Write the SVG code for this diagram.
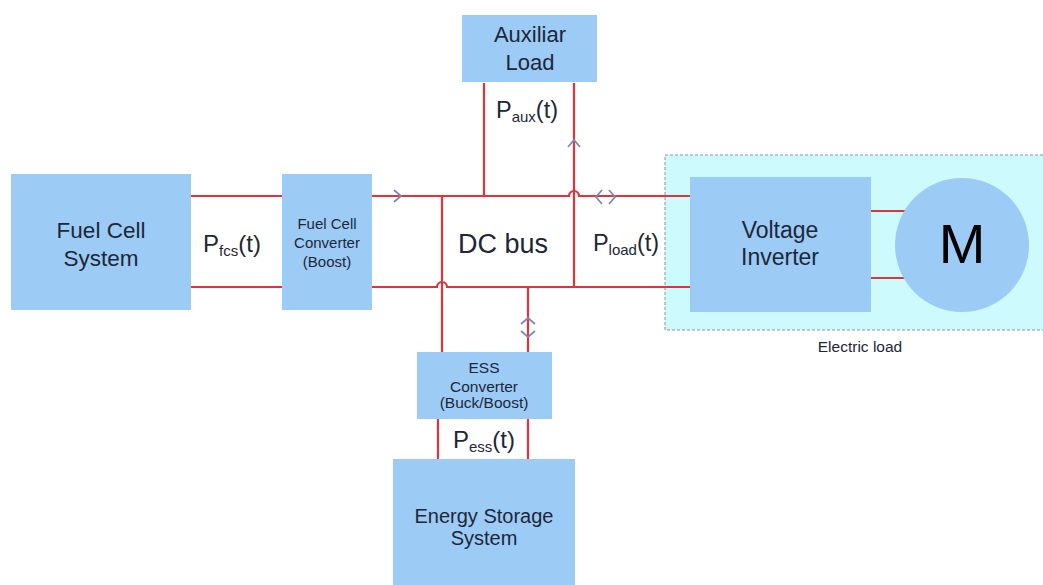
<svg xmlns="http://www.w3.org/2000/svg" width="1043" height="585" viewBox="0 0 1043 585">
<style>
.box{fill:#9ccbf6}
.t{font-family:"Liberation Sans",Arial,sans-serif;fill:#1c2738;text-anchor:middle}
.w{stroke:#e0343a;stroke-width:2.2;fill:none}
.ch{stroke:#7b8bb0;stroke-width:1.8;fill:none}
</style>
<rect width="1043" height="585" fill="#ffffff"/>
<g id="electric-load">
<rect x="665" y="155" width="380" height="175" fill="#cdfbfd" stroke="#8a9499" stroke-width="1" stroke-dasharray="3,2"/>
<text class="t" x="860" y="352" font-size="15.5">Electric load</text>
</g>
<g id="connectors">
<path class="w" d="M191 196H282M191 287H282"/>
<path class="w" d="M372 196H569a5 5 0 0 1 10 0H690"/>
<path class="w" d="M372 287H437a5 5 0 0 1 10 0H690"/>
<path class="w" d="M442 196V352"/>
<path class="w" d="M484 83V196"/>
<path class="w" d="M574 83V287"/>
<path class="w" d="M528 287V352"/>
<path class="w" d="M438 419V459M528 419V459"/>
<path class="w" d="M871 211H905M871 278H905"/>
<path class="ch" d="M394 190L401 196L394 202"/>
<path class="ch" d="M568 147L574 140L580 147"/>
<path class="ch" d="M602 190L596 197L602 204M609 190L615 197L609 204"/>
<path class="ch" d="M521 324L528 318L535 324M521 331L528 337L535 331"/>
</g>
<g id="fuel-cell-system">
<rect class="box" x="11" y="174" width="180" height="136"/>
<text class="t" x="101" y="238" font-size="22.5">Fuel Cell</text>
<text class="t" x="101" y="266" font-size="22.5">System</text>
</g>
<g id="fcs-label">
<text class="t" x="232" y="252" font-size="24">P<tspan font-size="15" dy="4">fcs</tspan><tspan dy="-4">(t)</tspan></text>
</g>
<g id="fuel-cell-converter">
<rect class="box" x="282" y="174" width="90" height="136"/>
<text class="t" x="327" y="228.5" font-size="15">Fuel Cell</text>
<text class="t" x="327" y="248" font-size="15">Converter</text>
<text class="t" x="327" y="267" font-size="15">(Boost)</text>
</g>
<g id="dc-bus">
<text class="t" x="503" y="253" font-size="27">DC bus</text>
</g>
<g id="auxiliar-load">
<rect class="box" x="462" y="15" width="135" height="67"/>
<text class="t" x="530" y="42" font-size="22">Auxiliar</text>
<text class="t" x="530" y="70" font-size="22">Load</text>
</g>
<g id="aux-label">
<text class="t" x="527" y="118" font-size="23.5">P<tspan font-size="15" dy="4">aux</tspan><tspan dy="-4">(t)</tspan></text>
</g>
<g id="load-label">
<text class="t" x="626" y="251" font-size="23.5">P<tspan font-size="15" dy="4">load</tspan><tspan dy="-4">(t)</tspan></text>
</g>
<g id="voltage-inverter">
<rect class="box" x="690" y="177" width="181" height="135"/>
<text class="t" x="780" y="238" font-size="23">Voltage</text>
<text class="t" x="780" y="265" font-size="23">Inverter</text>
</g>
<g id="motor">
<circle cx="962" cy="245" r="67" fill="#9ccbf6"/>
<text class="t" x="962" y="263" font-size="56" style="fill:#000">M</text>
</g>
<g id="ess-converter">
<rect class="box" x="417" y="352" width="135" height="67"/>
<text class="t" x="484" y="373" font-size="15.5">ESS</text>
<text class="t" x="484" y="391.5" font-size="15.5">Converter</text>
<text class="t" x="484" y="408" font-size="15.5">(Buck/Boost)</text>
</g>
<g id="ess-label">
<text class="t" x="484" y="448" font-size="24">P<tspan font-size="15" dy="4">ess</tspan><tspan dy="-4">(t)</tspan></text>
</g>
<g id="energy-storage-system">
<rect class="box" x="393" y="459" width="182" height="126"/>
<text class="t" x="484" y="523" font-size="20">Energy Storage</text>
<text class="t" x="484" y="545" font-size="20">System</text>
</g>
</svg>
